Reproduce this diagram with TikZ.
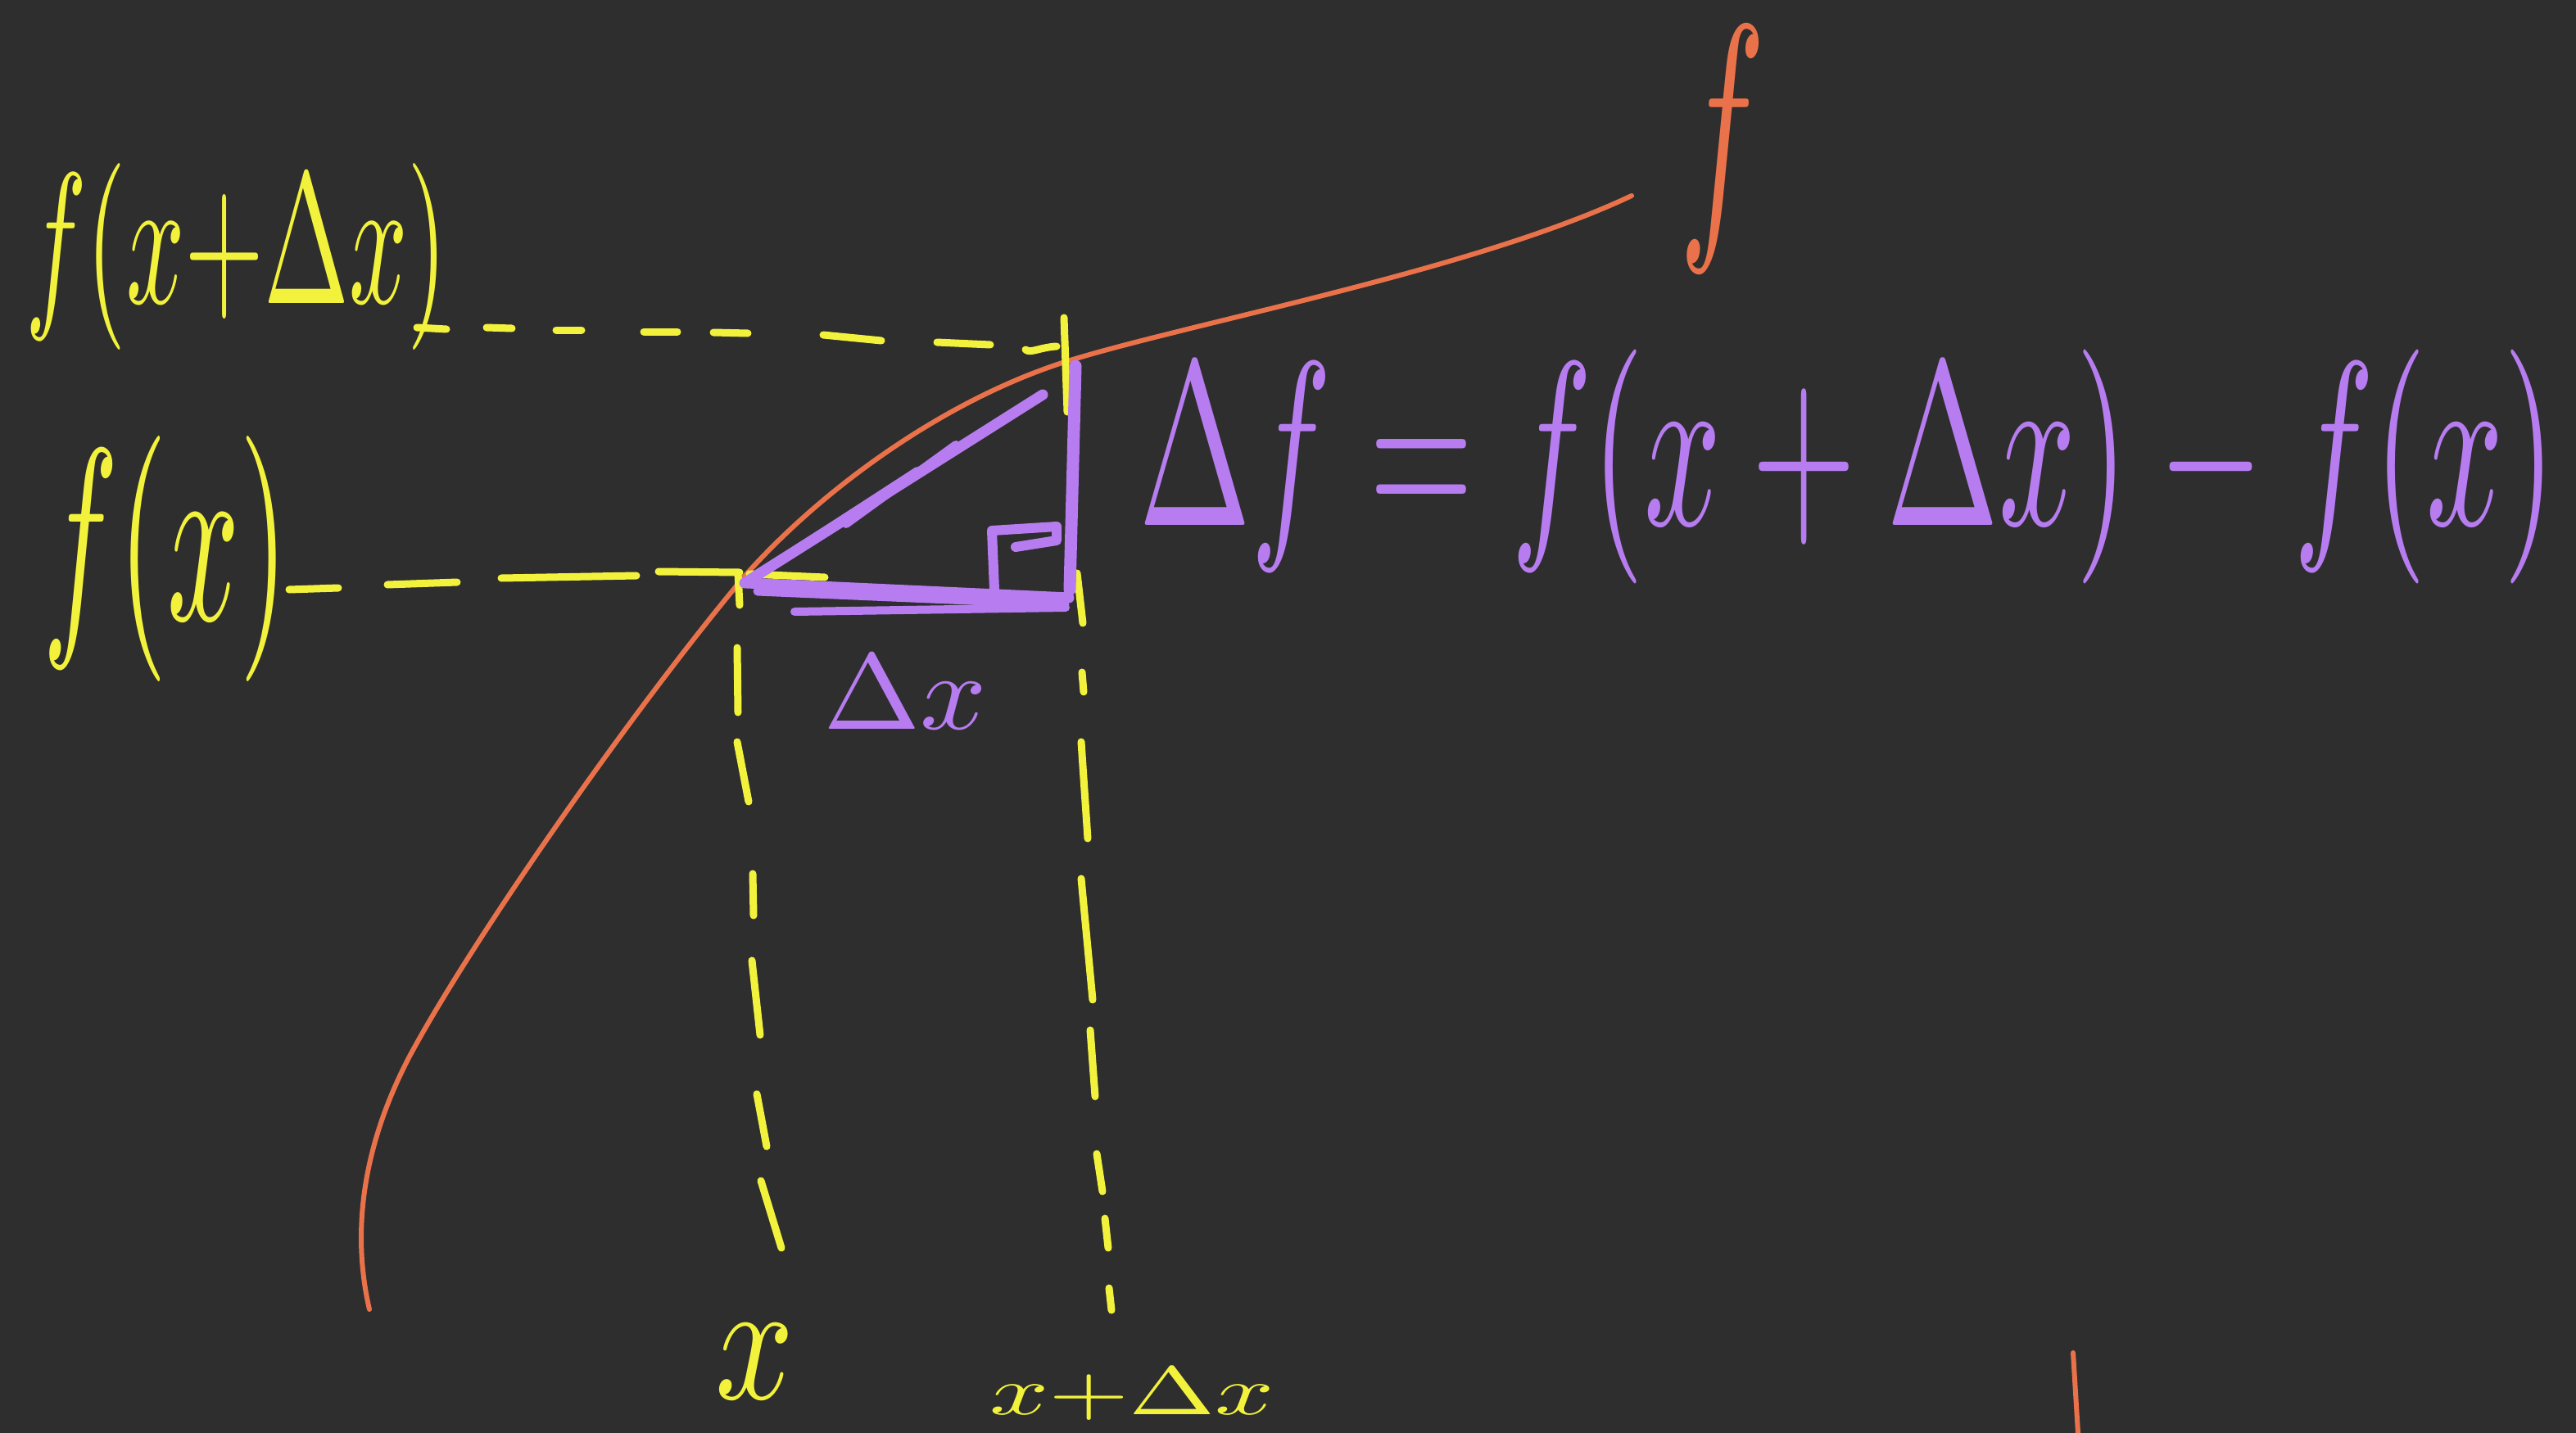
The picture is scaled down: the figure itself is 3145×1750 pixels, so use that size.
\documentclass[tikz,border=0pt]{standalone}
\usepackage{graphicx}
\definecolor{bg}{RGB}{46,46,46}
\definecolor{chalkyellow}{RGB}{242,242,60}
\definecolor{chalkpurple}{RGB}{182,124,240}
\definecolor{chalkorange}{RGB}{234,114,74}
\tikzset{
  ylw/.style={draw=chalkyellow, line width=9pt, line cap=round, line join=round},
  prp/.style={draw=chalkpurple, line width=12pt, line cap=round, line join=round},
  org/.style={draw=chalkorange, line width=6pt, line cap=round, line join=round},
  lbl/.style={inner sep=0pt, outer sep=0pt, anchor=north west},
}
\newcommand{\hw}[3]{\resizebox*{#1}{#2}{$#3$}}
\begin{document}
\begin{tikzpicture}[x=1pt,y=-1pt]
\fill[bg] (0,0) rectangle (3145,1750);
\useasboundingbox (0,0) rectangle (3145,1750);

% curve f
\draw[org] (451,1599) .. controls (428,1500) and (445,1395) .. (500,1290)
  .. controls (575,1150) and (770,870) .. (907,706)
  .. controls (1000,600) and (1150,490) .. (1300,442)
  .. controls (1450,395) and (1800,330) .. (1992,239);
\draw[org] (2531,1652) -- (2537,1750);

% yellow dashed horizontal for f(x+dx)
\draw[ylw] (509,400) -- (545,402);
\draw[ylw] (594,400) -- (625,401);
\draw[ylw] (679,403) -- (710,403);
\draw[ylw] (786,405) -- (827,405);
\draw[ylw] (871,406) -- (913,407);
\draw[ylw] (1005,409) -- (1076,416);
\draw[ylw] (1144,418) -- (1209,421);
\draw[ylw] (1252,427) .. controls (1258,432) and (1270,424) .. (1290,423);
\draw[ylw] (1299,388) -- (1303,503);

% yellow dashed horizontal for f(x)
\draw[ylw] (353,720) -- (413,718);
\draw[ylw] (473,714) -- (558,711);
\draw[ylw] (612,706) -- (777,703);
\draw[ylw] (804,698) -- (903,699);
\draw[ylw] (915,701) -- (1007,705);
\draw[ylw] (901,700) -- (903,739);

% left vertical dashed (x)
\draw[ylw] (900,791) -- (901,870);
\draw[ylw] (900,906) -- (914,979);
\draw[ylw] (919,1067) -- (920,1118);
\draw[ylw] (918,1173) -- (928,1264);
\draw[ylw] (924,1336) -- (936,1400);
\draw[ylw] (929,1442) -- (954,1524);

% right vertical dashed (x+dx)
\draw[ylw] (1315,700) -- (1322,761);
\draw[ylw] (1321,821) -- (1323,845);
\draw[ylw] (1320,906) -- (1328,1024);
\draw[ylw] (1320,1073) -- (1334,1221);
\draw[ylw] (1331,1258) -- (1337,1339);
\draw[ylw] (1339,1409) -- (1346,1455);
\draw[ylw] (1349,1488) -- (1353,1524);
\draw[ylw] (1354,1573) -- (1357,1600);

% purple triangle
\draw[prp, line width=13pt] (909,712) -- (1273,482);
\draw[prp, line width=10pt] (918,706) -- (1120,575);
\draw[prp, line width=10pt] (1033,640) -- (1167,543);
\draw[prp, line width=15pt] (1313,447) -- (1306,720);
\draw[prp, line width=13pt] (912,712) -- (1305,730);
\draw[prp, line width=11pt] (925,722) -- (1300,738);
\draw[prp, line width=10pt] (970,747) -- (1301,742);
\draw[prp] (1214,720) -- (1211,648) -- (1290,643) -- (1290,660) -- (1240,668);

% labels
\node[lbl, text=chalkyellow] (fxdx) at (31,199) {\hw{515pt}{228pt}{f(x{+}\Delta x)}};
\node[lbl, text=chalkyellow] (fx) at (52,532) {\hw{300pt}{300pt}{f(x)}};
\node[lbl, text=chalkyellow] (xl) at (873,1617) {\hw{96pt}{91pt}{x}};
\node[lbl, text=chalkyellow] (xdx) at (1208,1670) {\hw{348pt}{64pt}{x{+}\Delta x}};
\node[lbl, text=chalkpurple] (dx) at (1005,800) {\hw{200pt}{90pt}{\Delta x}};
\node[lbl, text=chalkpurple] (df) at (1390,427) {\hw{1730pt}{286pt}{\Delta f = f(x+\Delta x) - f(x)}};
\node[lbl, text=chalkorange] (fl) at (2050,32) {\hw{105pt}{300pt}{f}};
\end{tikzpicture}
\end{document}
